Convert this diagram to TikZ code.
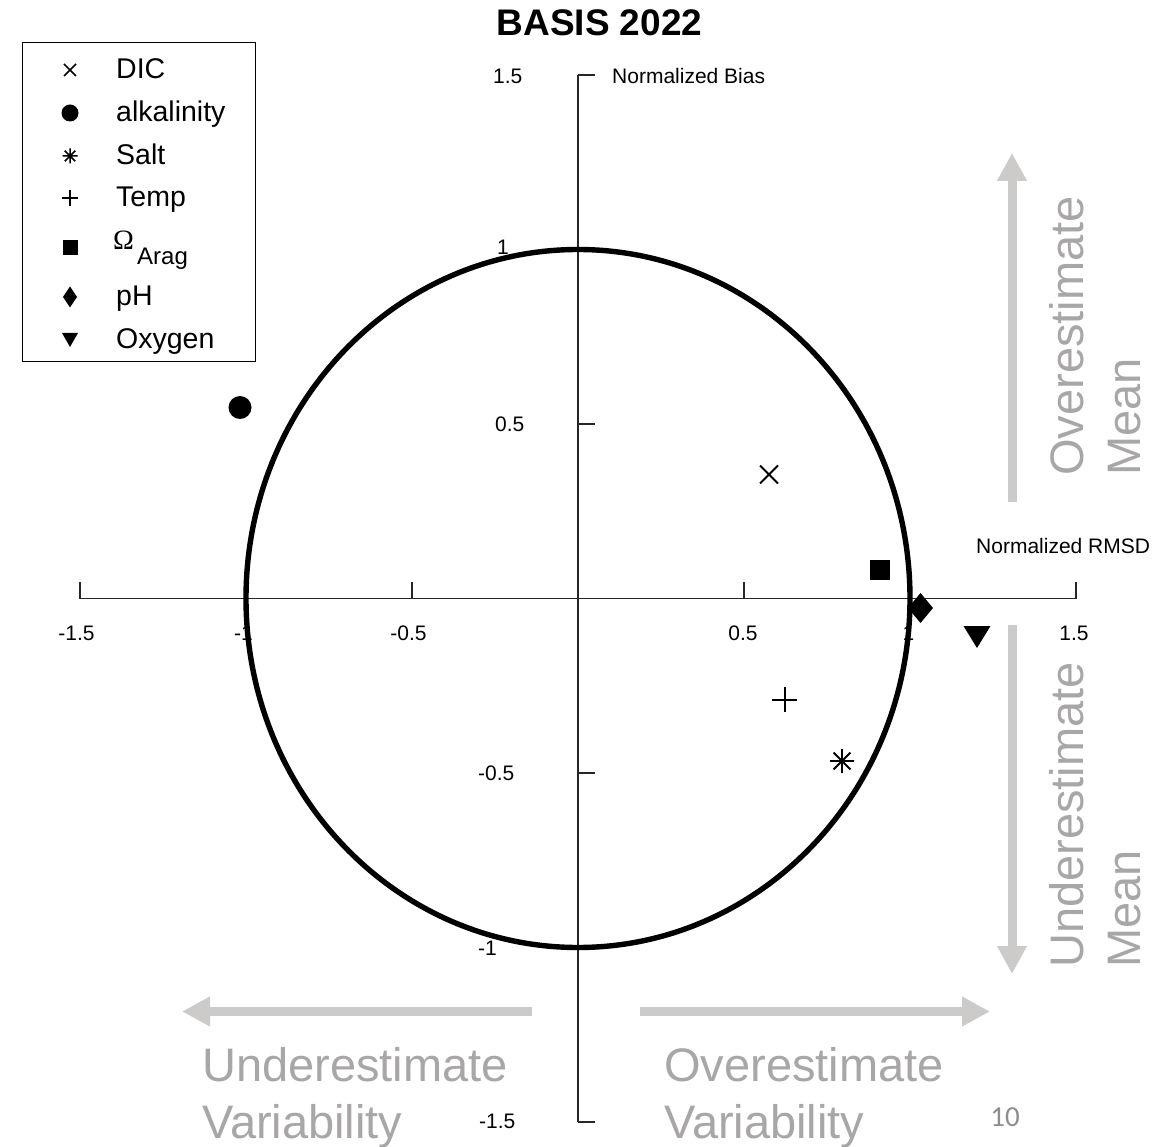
\documentclass[tikz,border=0pt]{standalone}
\usepackage{fontspec}
\setmainfont{Liberation Sans}
\newfontfamily\omegafont{Liberation Serif}
\newfontfamily\pagefont{Carlito}
\usetikzlibrary{arrows.meta}
\definecolor{arrowgray}{HTML}{CDCBCA}
\definecolor{textgray}{HTML}{A9A6A6}
\definecolor{pagegray}{HTML}{8E8E8E}
\definecolor{axiscol}{HTML}{262626}
\newcommand\mkcross[3]{\draw[line width=#3] (#1) ++(-#2,-#2) -- ++(2*#2,2*#2) (#1) ++(-#2,#2) -- ++(2*#2,-2*#2);}
\newcommand\mkplus[3]{\draw[line width=#3] (#1) ++(-#2,0) -- ++(2*#2,0) (#1) ++(0,-#2) -- ++(0,2*#2);}
\newcommand\mkstar[3]{\draw[line width=#3] (#1) ++(-#2,0) -- ++(2*#2,0) (#1) ++(0,-#2) -- ++(0,2*#2)
  (#1) ++(-0.7*#2,-0.7*#2) -- ++(1.4*#2,1.4*#2) (#1) ++(-0.7*#2,0.7*#2) -- ++(1.4*#2,-1.4*#2);}
\newcommand\mkdot[2]{\fill (#1) circle [radius=#2pt];}
\newcommand\mksquare[2]{\fill (#1) ++(-#2,-#2) rectangle ++(2*#2,2*#2);}
\newcommand\mkdiamond[3]{\fill (#1) ++(0,-#3) -- ++(#2,#3) -- ++(-#2,#3) -- ++(-#2,-#3) -- cycle;}
\newcommand\mktri[3]{\fill (#1) ++(-#2,-#3) -- ++(2*#2,0) -- ++(-#2,2*#3) -- cycle;}
\begin{document}
\begin{tikzpicture}[x=1pt,y=-1pt,
  ticklab/.style={inner sep=0pt,font=\fontsize{21}{24}\selectfont},
  axislab/.style={inner sep=0pt,anchor=west,font=\fontsize{21}{24}\selectfont},
  legtext/.style={inner sep=0pt,anchor=base west,font=\fontsize{28.5}{32}\selectfont},
  bigtext/.style={inner sep=0pt,anchor=base west,text=textgray,font=\fontsize{47}{57}\selectfont},
  axisline/.style={draw=axiscol,line width=1.2pt},
  grayarrow/.style={draw=arrowgray,line width=9pt,-{Triangle[width=28pt,length=28pt]}}
]
\useasboundingbox (0,0) rectangle (1173,1147);
\fill[white] (0,0) rectangle (1173,1147);

% title
\node[inner sep=0pt,anchor=base,font=\fontsize{37}{44}\selectfont\bfseries] (title) at (599.5,36) {BASIS 2022};

% axes
\coordinate (xl) at (80,598.5);
\coordinate (xr) at (1076,598.5);
\coordinate (yt) at (578,75);
\coordinate (yb) at (578,1122);
\coordinate (origin) at (578,598.5);
\draw[axisline] (xl) -- (xr);
\draw[axisline] (yt) -- (yb);
\foreach \xx in {80,245,412,744,910,1076}{
  \draw[axisline] (\xx,598.5) -- ++(0,-17);
}
\foreach \yy in {75,250,424,773,947,1122}{
  \draw[axisline] (578,\yy) -- ++(17,0);
}
% x tick labels
\node[ticklab] (xm15) at (76.5,633) {-1.5};
\node[ticklab,anchor=west] (xm1) at (234,633) {-1};
\node[ticklab] (xp1) at (908.5,633) {1};
\node[ticklab] (xm05) at (408.5,633) {-0.5};
\node[ticklab] (xp05) at (743,633) {0.5};
\node[ticklab] (xp15) at (1074,633) {1.5};
% y tick labels
\node[ticklab,anchor=west] (yp15) at (493,76) {1.5};
\node[ticklab,anchor=west] (yp1) at (497,247) {1};
\node[ticklab,anchor=west] (yp05) at (495,424.5) {0.5};
\node[ticklab,anchor=west] (ym05) at (478,773.5) {-0.5};
\node[ticklab,anchor=west] (ym1) at (478,948.5) {-1};
\node[ticklab,anchor=west] (ym15) at (479,1121.5) {-1.5};
% axis titles
\node[axislab] (biaslab) at (612,76) {Normalized Bias};
\node[axislab] (rmsdlab) at (976,546) {Normalized RMSD};

% unit circle
\draw[line width=5.4pt] (origin) ellipse [x radius=332pt, y radius=349pt];

% gray arrows
\coordinate (upS) at (1012,502);
\coordinate (upE) at (1012,153);
\coordinate (dnS) at (1012,625);
\coordinate (dnE) at (1012,974);
\coordinate (lfS) at (532,1011.5);
\coordinate (lfE) at (182,1011.5);
\coordinate (rtS) at (640,1011.5);
\coordinate (rtE) at (990,1011.5);
\draw[grayarrow] (upS) -- (upE);
\draw[grayarrow] (dnS) -- (dnE);
\draw[grayarrow] (lfS) -- (lfE);
\draw[grayarrow] (rtS) -- (rtE);

% gray labels
\node[bigtext,rotate=90] (ovm1) at (1083,476) {Overestimate};
\node[bigtext,rotate=90] (ovm2) at (1140,476) {Mean};
\node[bigtext,rotate=90] (unm1) at (1083,968) {Underestimate};
\node[bigtext,rotate=90] (unm2) at (1140,968) {Mean};
\node[bigtext] (unv1) at (202,1081) {Underestimate};
\node[bigtext] (unv2) at (202,1138) {Variability};
\node[bigtext] (ovv1) at (664,1081) {Overestimate};
\node[bigtext] (ovv2) at (664,1138) {Variability};

% page number
\node[inner sep=0pt,text=pagegray,font=\pagefont\fontsize{29}{34}\selectfont] (pagenum) at (1005,1117.5) {10};

% data points
\coordinate (pDIC) at (769,474.5);
\coordinate (pAlk) at (240,407.5);
\coordinate (pSalt) at (842,761);
\coordinate (pTemp) at (784.5,699.5);
\coordinate (pArag) at (880,569.5);
\coordinate (ppH) at (920.5,608);
\coordinate (pOxy) at (977,637);
\mkcross{pDIC}{9}{1.8pt}
\mkdot{pAlk}{11.5}
\mkstar{pSalt}{12}{1.9pt}
\mkplus{pTemp}{12.5}{2pt}
\mksquare{pArag}{10}
\mkdiamond{ppH}{12.5}{15}
\mktri{pOxy}{13.5}{11}

% legend
\draw[line width=1pt] (22,43) rectangle (255,362);
\coordinate (lDIC) at (70,70);
\coordinate (lAlk) at (70,113);
\coordinate (lSalt) at (70,156);
\coordinate (lTemp) at (70,198);
\coordinate (lArag) at (70,248);
\coordinate (lpH) at (70,297);
\coordinate (lOxy) at (70,340);
\mkcross{lDIC}{6}{1.5pt}
\mkdot{lAlk}{8.5}
\mkstar{lSalt}{7.5}{1.5pt}
\mkplus{lTemp}{8}{1.5pt}
\mksquare{lArag}{7.5}
\mkdiamond{lpH}{7}{10.5}
\mktri{lOxy}{8}{7}
\node[legtext] (tDIC) at (116,79) {DIC};
\node[legtext] (tAlk) at (116,122) {alkalinity};
\node[legtext] (tSalt) at (116,165) {Salt};
\node[legtext] (tTemp) at (116,207) {Temp};
\node[inner sep=0pt,anchor=base west,font=\omegafont\fontsize{28}{32}\selectfont] (tOmega) at (113,250) {Ω};
\node[inner sep=0pt,anchor=base west,font=\fontsize{24}{28}\selectfont] (tArag) at (137,265) {Arag};
\node[legtext] (tpH) at (116,306) {pH};
\node[legtext] (tOxy) at (116,349) {Oxygen};
\end{tikzpicture}
\end{document}
